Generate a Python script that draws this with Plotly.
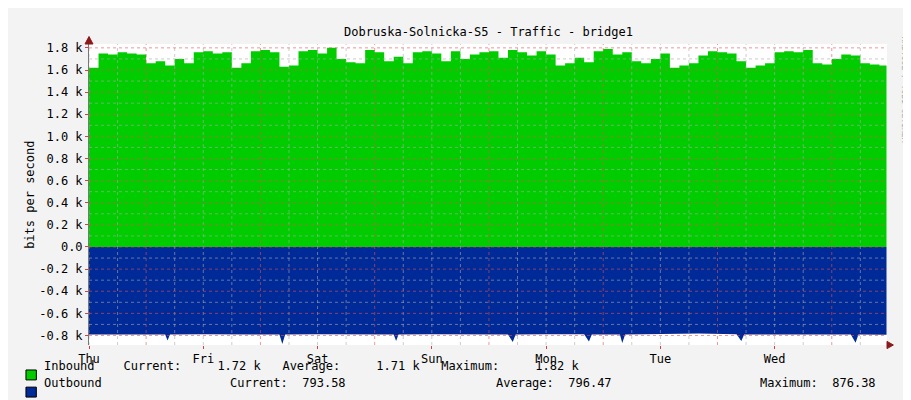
import plotly.graph_objects as go
from datetime import datetime, timedelta

start = datetime(2024, 1, 4, 0, 0)  # Thursday
day_labels = ["Thu", "Fri", "Sat", "Sun", "Mon", "Tue", "Wed"]

# Inbound (bits/s), every 2 hours, plus a final point
inbound_k = [
    1.62, 1.75, 1.74, 1.76, 1.75, 1.74, 1.66, 1.68, 1.64, 1.70, 1.66, 1.76,
    1.77, 1.75, 1.76, 1.62, 1.66, 1.77, 1.78, 1.76, 1.63, 1.64, 1.77, 1.78,
    1.75, 1.80, 1.70, 1.67, 1.66, 1.78, 1.76, 1.68, 1.72, 1.66, 1.76, 1.77,
    1.75, 1.68, 1.77, 1.70, 1.74, 1.76, 1.77, 1.71, 1.78, 1.76, 1.73, 1.77,
    1.74, 1.64, 1.66, 1.71, 1.67, 1.77, 1.79, 1.74, 1.76, 1.68, 1.66, 1.70,
    1.75, 1.62, 1.64, 1.66, 1.73, 1.77, 1.76, 1.75, 1.68, 1.62, 1.64, 1.66,
    1.76, 1.77, 1.76, 1.78, 1.66, 1.65, 1.70, 1.74, 1.73, 1.66, 1.65, 1.64,
    1.78,
]
inbound_hours = [2 * i for i in range(84)] + [167.5]

# Outbound (bits/s, plotted negative): hours and values incl. narrow spikes
outbound_hours = [0, 8, 16, 16.5, 17, 24, 32, 40, 40.6, 41.2, 48, 56, 64, 64.5, 65,
                  72, 80, 88, 89, 89.6, 96, 104, 105, 105.6, 111.5, 112, 112.6, 120,
                  128, 136, 137, 137.6, 144, 152, 160, 161, 161.6, 167.5]
outbound_vals = [790, 788, 792, 845, 792, 789, 790, 791, 876, 790, 788, 790, 792, 850, 791,
                 789, 790, 791, 860, 790, 789, 788, 855, 790, 791, 868, 790, 785,
                 782, 789, 850, 790, 788, 790, 791, 865, 790, 794]

x_in = [start + timedelta(hours=h) for h in inbound_hours]
y_in = [v * 1000 for v in inbound_k]
x_out = [start + timedelta(hours=h) for h in outbound_hours]
y_out = [-v for v in outbound_vals]

fig = go.Figure()
fig.add_trace(go.Scatter(x=x_in, y=y_in, fill="tozeroy", mode="lines",
                         line=dict(color="#00cc00", width=0, shape="hv"),
                         fillcolor="#00cc00", hoverinfo="skip"))
fig.add_trace(go.Scatter(x=x_out, y=y_out, fill="tozeroy", mode="lines",
                         line=dict(color="#002a97", width=0),
                         fillcolor="#002a97", hoverinfo="skip"))

end = start + timedelta(hours=167.6)
shapes = []
for i in range(28):
    t = start + timedelta(hours=6 * i)
    red = (i % 4 == 2)
    shapes.append(dict(type="line", xref="x", yref="paper", x0=t, x1=t, y0=0, y1=1,
                       line=dict(color="rgba(230,80,80,0.6)" if red else "rgba(170,170,170,0.6)",
                                 width=1, dash="dot"), layer="above"))
for v in range(-800, 1900, 100):
    red = (v % 200 == 0)
    shapes.append(dict(type="line", xref="paper", yref="y", x0=0, x1=1, y0=v, y1=v,
                       line=dict(color="rgba(230,80,80,0.6)" if red else "rgba(170,170,170,0.6)",
                                 width=1, dash="dot"), layer="above"))
# legend swatches
shapes.append(dict(type="rect", xref="paper", yref="paper", x0=-0.079, x1=-0.066,
                   y0=-0.116, y1=-0.083, fillcolor="#00cc00", line=dict(color="black", width=1)))
shapes.append(dict(type="rect", xref="paper", yref="paper", x0=-0.079, x1=-0.066,
                   y0=-0.173, y1=-0.140, fillcolor="#002a97", line=dict(color="black", width=1)))
# arrows
shapes.append(dict(type="path", xref="paper", yref="paper",
                   path="M -0.005 1.0 L 0.005 1.0 L 0 1.025 Z", fillcolor="#8b1a1a",
                   line=dict(color="#8b1a1a", width=1)))
shapes.append(dict(type="path", xref="paper", yref="paper",
                   path="M 1.0 -0.012 L 1.0 0.012 L 1.008 0 Z", fillcolor="#8b1a1a",
                   line=dict(color="#8b1a1a", width=1)))

mono = "DejaVu Sans Mono"
f = dict(size=12, family=mono, color="#000")
ann = [
    dict(text="Dobruska-Solnicka-S5 - Traffic - bridge1", xref="paper", yref="paper",
         x=0.5, y=1.0, yshift=21, showarrow=False, font=f),
    dict(text="bits per second", xref="paper", yref="paper", x=-0.086, y=0.5,
         textangle=-90, showarrow=False, font=f),
    dict(text="RRDTOOL / TOBI OETIKER", xref="paper", yref="paper", x=1.030, y=1.03,
         yanchor="top", textangle=90, showarrow=False, font=dict(size=8, family=mono, color="#aaa")),
    dict(text="Inbound    Current:     1.72 k   Average:     1.71 k   Maximum:     1.82 k",
         xref="paper", yref="paper", x=-0.059, y=-0.10, xanchor="left", showarrow=False, font=f),
    dict(text="Outbound", xref="paper", yref="paper", x=-0.059, y=-0.156, xanchor="left",
         showarrow=False, font=f),
    dict(text="Current:  793.58", xref="paper", yref="paper", x=0.174, y=-0.156,
         xanchor="left", showarrow=False, font=f),
    dict(text="Average:  796.47", xref="paper", yref="paper", x=0.507, y=-0.156,
         xanchor="left", showarrow=False, font=f),
    dict(text="Maximum:  876.38", xref="paper", yref="paper", x=0.838, y=-0.156,
         xanchor="left", showarrow=False, font=f),
]

ytick_vals = [-800, -600, -400, -200, 0, 200, 400, 600, 800, 1000, 1200, 1400, 1600, 1800]
ytick_text = ["-0.8 k", "-0.6 k", "-0.4 k", "-0.2 k", "0.0", "0.2 k", "0.4 k", "0.6 k",
              "0.8 k", "1.0 k", "1.2 k", "1.4 k", "1.6 k", "1.8 k"]

fig.update_layout(
    width=911, height=400, showlegend=False,
    margin=dict(l=81, r=32, t=36, b=63),
    paper_bgcolor="#f3f3f3", plot_bgcolor="#ffffff",
    font=f,
    shapes=shapes, annotations=ann,
    xaxis=dict(type="date", range=[start, end], showgrid=False, zeroline=False,
               automargin=False,
               tickvals=[start + timedelta(days=d) for d in range(7)], ticktext=day_labels,
               ticks="outside", ticklen=3, tickcolor="#c44", showline=False,
               tickfont=f),
    yaxis=dict(range=[-886, 1835], showgrid=False, zeroline=False, automargin=False,
               tickvals=ytick_vals, ticktext=ytick_text, ticks="outside", ticklen=3,
               tickcolor="#c44", showline=True, linecolor="#777", linewidth=1,
               tickfont=f),
)
fig.write_html("out.html")
